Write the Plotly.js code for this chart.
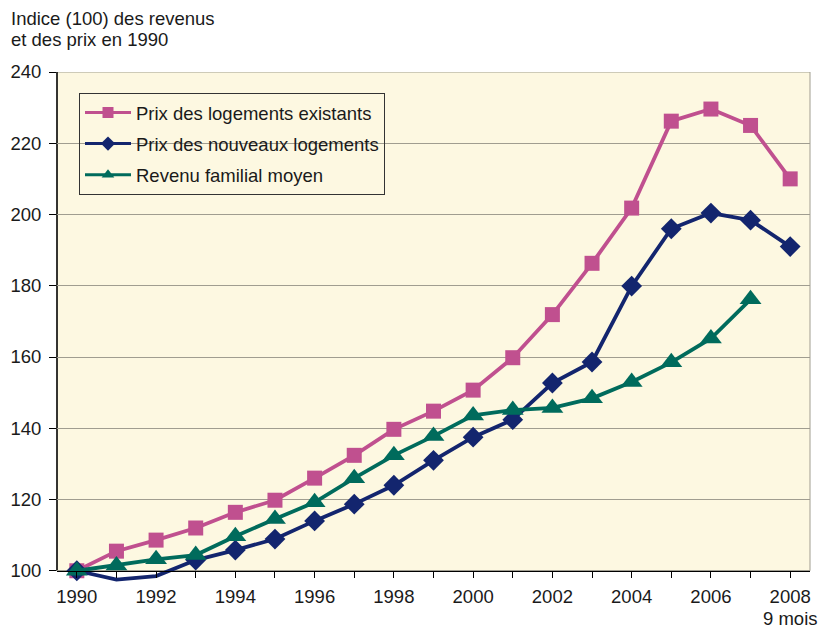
<!DOCTYPE html>
<html>
<head>
<meta charset="utf-8">
<script src="https://cdn.plot.ly/plotly-3.0.1.min.js"></script>
<style>html,body{margin:0;padding:0;background:#fff;}#chart{width:828px;height:628px;}</style>
</head>
<body>
<div id="chart"></div>
<script>
// Data
const years = [1990,1991,1992,1993,1994,1995,1996,1997,1998,1999,2000,2001,2002,2003,2004,2005,2006,2007,2008];
const prixExistants = [100,105.5,108.6,112,116.4,119.8,126,132.4,139.7,144.8,150.7,159.8,171.9,186.3,201.8,226.2,229.6,225,210];
const prixNouveaux = [100,97.5,98.5,103,105.8,108.9,114,118.7,124,131,137.5,142.4,152.7,158.6,179.9,196,200.4,198.4,191];
const revenuYears = [1990,1991,1992,1993,1994,1995,1996,1997,1998,1999,2000,2001,2002,2003,2004,2005,2006,2007];
const revenu = [100,101.5,103.2,104.4,109.7,114.5,119.2,126,132.4,137.8,143.6,145.1,145.7,148.4,153,158.5,165.2,176.2];
const seriesNames = ['Prix des logements existants','Prix des nouveaux logements','Revenu familial moyen'];
const titleLines = ['Indice (100) des revenus', 'et des prix en 1990'];
const tickYears = years;
const tickLabels = years.map(y => (y % 2 === 0 ? String(y) : ''));
const lastTickNote = '9 mois';
const yTicks = [100,120,140,160,180,200,220,240];

const FONT = 'Liberation Sans, Arial, Helvetica, sans-serif';
const TXT = '#1a1a1a';
const colors = ['#c0508f', '#13256e', '#006b5c'];
const symbols = ['square', 'diamond', 'triangle-up'];
const msizes = [15, 16, 19];
const yMin = 96, yBase = 100, yMax = 240;

function mainTrace(x, y, i) {
  return {
    x: x, y: y, type: 'scatter', mode: 'lines+markers', name: seriesNames[i],
    showlegend: false, cliponaxis: false,
    line: {color: colors[i], width: 3.8},
    marker: {symbol: symbols[i], color: colors[i], opacity: 1,
             line: {width: 0}, size: y.map(v => v < yBase ? 0 : msizes[i])}
  };
}
function legendTrace(i) {
  return {
    x: [null], y: [null], type: 'scatter', mode: 'lines+markers', name: seriesNames[i],
    legendgroup: 'g' + i,
    line: {color: colors[i], width: 3},
    marker: {symbol: symbols[i], color: colors[i], size: 11, opacity: 1, line: {width: 0}}
  };
}

const data = [
  mainTrace(years, prixExistants, 0),
  mainTrace(years, prixNouveaux, 1),
  mainTrace(revenuYears, revenu, 2),
  legendTrace(0), legendTrace(1), legendTrace(2)
];

const H = 628, MB = 43, MT = 72, PH = H - MT - MB;
const pyPaper = p => (H - MB - p) / PH;
const tfont = {family: FONT, size: 18.5, color: TXT};

const layout = {
  width: 828, height: 628,
  margin: {l: 57, r: 18, t: MT, b: MB},
  paper_bgcolor: '#ffffff',
  plot_bgcolor: 'rgba(0,0,0,0)',
  font: tfont,
  annotations: [
    {text: titleLines[0], xref: 'paper', yref: 'paper', x: (9 - 57) / 753, y: pyPaper(19),
     xanchor: 'left', yanchor: 'middle', showarrow: false, font: tfont},
    {text: titleLines[1], xref: 'paper', yref: 'paper', x: (9 - 57) / 753, y: pyPaper(39.5),
     xanchor: 'left', yanchor: 'middle', showarrow: false, font: tfont},
    {text: lastTickNote, xref: 'x', yref: 'paper', x: years[years.length - 1], y: pyPaper(618),
     xanchor: 'center', yanchor: 'middle', showarrow: false, font: tfont}
  ],
  xaxis: {
    range: [1989.5, 2008.5],
    anchor: 'free', position: (yBase - yMin) / (yMax - yMin),
    tickmode: 'array', tickvals: tickYears, ticktext: tickLabels,
    ticks: 'outside', ticklen: 6, tickcolor: '#000', tickwidth: 1,
    showline: true, linecolor: '#000', linewidth: 1.5,
    showgrid: false, zeroline: false,
    ticklabelstandoff: 3,
    tickfont: tfont
  },
  yaxis: {
    range: [yMin, yMax],
    tickmode: 'array', tickvals: yTicks,
    ticks: 'outside', ticklen: 7, tickcolor: '#000', tickwidth: 1,
    showline: false, showgrid: true, gridcolor: '#a09d90', gridwidth: 1,
    zeroline: false,
    ticklabelstandoff: 4,
    tickfont: tfont
  },
  shapes: [
    {type: 'rect', xref: 'paper', yref: 'y', x0: 0, x1: 1, y0: yBase, y1: yMax,
     fillcolor: '#fdf8e1', line: {color: '#a09d90', width: 1}, layer: 'below'},
    {type: 'line', xref: 'paper', yref: 'y', x0: 0, x1: 0, y0: yBase, y1: yMax,
     line: {color: '#000', width: 1.5}, layer: 'below'}
  ],
  legend: {
    x: 22/753, xanchor: 'left', y: 1 - 21/PH, yanchor: 'top',
    bgcolor: 'rgba(0,0,0,0)', bordercolor: '#333', borderwidth: 1,
    font: tfont,
    tracegroupgap: 4, itemwidth: 46, traceorder: 'grouped'
  },
  showlegend: true
};

Plotly.newPlot('chart', data, layout, {displayModeBar: false, staticPlot: true});
</script>
</body>
</html>
